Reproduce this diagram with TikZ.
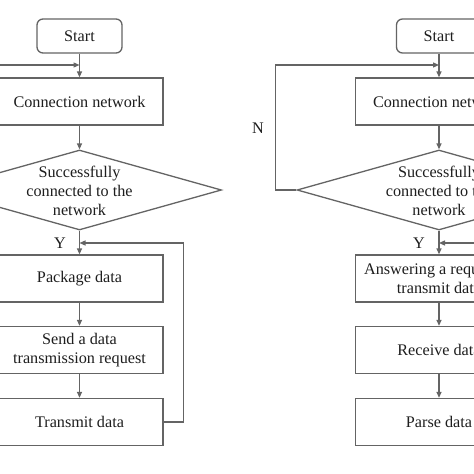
\documentclass[tikz,border=0pt]{standalone}
\usepackage{fontspec}
\setmainfont{Liberation Serif}
\usetikzlibrary{arrows.meta,shapes.geometric}
\definecolor{linegray}{RGB}{100,100,100}
\definecolor{txt}{RGB}{30,30,30}
\begin{document}
\begin{tikzpicture}[x=1pt,y=-1pt,
  line/.style={draw=linegray, line width=1.3pt},
  arr/.style={line, -{Triangle[length=6pt,width=5pt]}},
  lbl/.style={text=txt, font=\fontsize{16.2}{19}\selectfont, align=center, inner sep=0pt},
  proc/.style={line, lbl, rectangle, minimum width=167pt, minimum height=47pt},
  startbox/.style={line, lbl, rectangle, rounded corners=6pt, minimum width=85pt, minimum height=34pt},
  decision/.style={line, diamond, minimum width=284pt, minimum height=80pt, inner sep=0pt},
]
\useasboundingbox (0,0) rectangle (474,474);
\fill[white] (0,0) rectangle (474,474);
\clip (0,0) rectangle (474,474);

% left flowchart
\node[startbox] (s1) at (79.5,36) {Start};
\node[proc] (c1) at (79.5,101.5) {Connection network};
\node[decision] (d1) at (79.5,190) {\phantom{}};
\node[lbl] (d1t) at (79.5,191) {Successfully\\connected to the\\network};
\node[proc] (p1) at (79.5,278.5) {Package data};
\node[proc] (q1) at (79.5,350) {Send a data\\transmission request};
\node[proc] (t1) at (79.5,422) {Transmit data};
\node[lbl] (y1) at (60,243) {Y};
\coordinate (k1) at (79.5,65);
\coordinate (j1) at (79.5,243);

\draw[arr] (s1) -- (c1);
\draw[arr] (c1) -- (d1);
\draw[arr] (d1) -- (p1);
\draw[arr] (p1) -- (q1);
\draw[arr] (q1) -- (t1);
\draw[arr] (d1.west) -- ++(-21,0) |- (k1);
\draw[arr] (t1.east) -- ++(20,0) |- (j1);

% right flowchart
\node[startbox] (s2) at (439,36) {Start};
\node[proc] (c2) at (439,101.5) {Connection network};
\node[decision] (d2) at (439,190) {\phantom{}};
\node[lbl] (d2t) at (439,191) {Successfully\\connected to the\\network};
\node[proc] (a2) at (439,278.5) {Answering a request to\\transmit data};
\node[proc] (r2) at (439,350) {Receive data};
\node[proc] (e2) at (439,422) {Parse data};
\node[lbl] (y2) at (419,243) {Y};
\node[lbl] (n2) at (258,128) {N};
\coordinate (k2) at (439,65);
\coordinate (j2) at (439,243);

\draw[arr] (s2) -- (c2);
\draw[arr] (c2) -- (d2);
\draw[arr] (d2) -- (a2);
\draw[arr] (a2) -- (r2);
\draw[arr] (r2) -- (e2);
\draw[arr] (d2.west) -- ++(-21,0) |- (k2);
\draw[arr] (e2.east) -- ++(20,0) |- (j2);
\end{tikzpicture}
\end{document}
